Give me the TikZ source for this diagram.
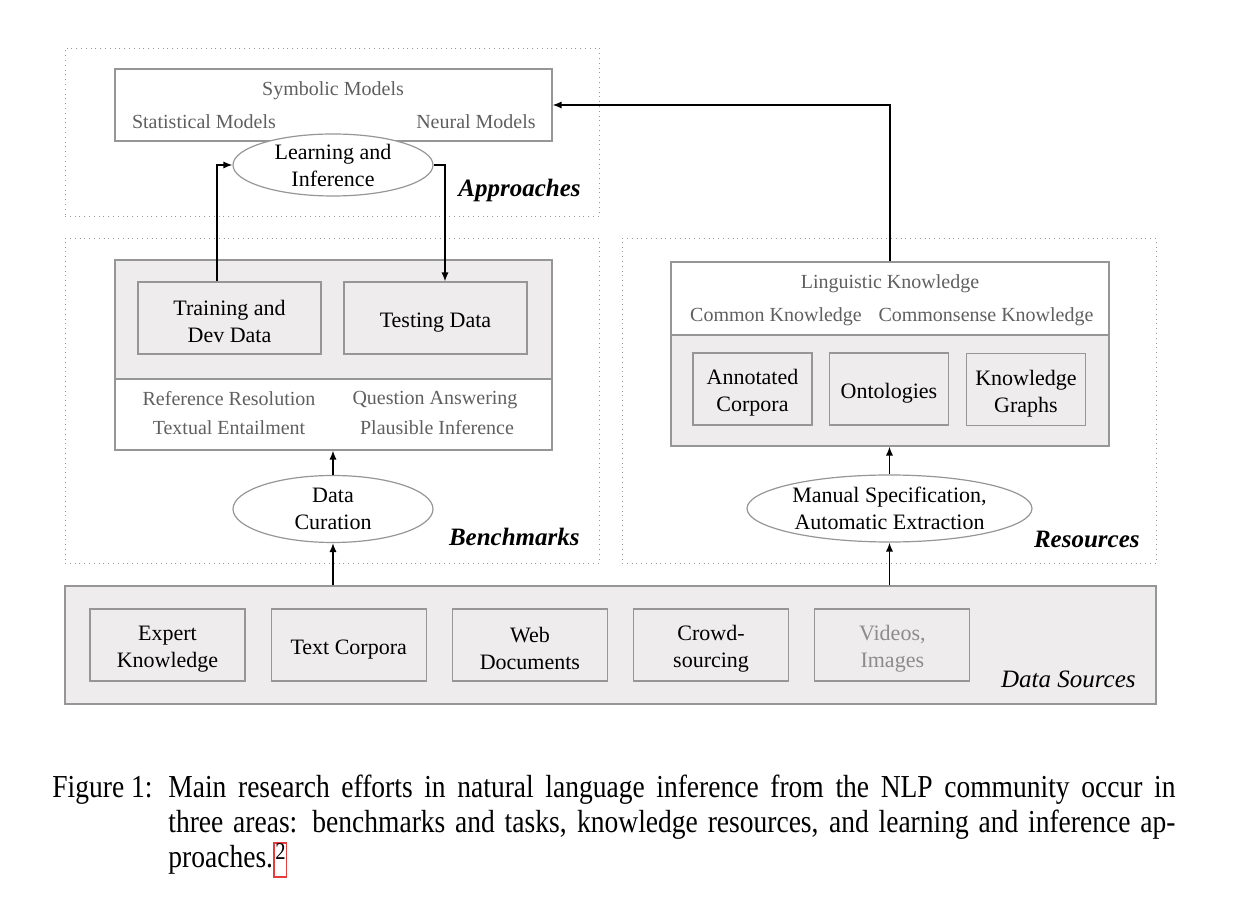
\documentclass[tikz,border=0pt]{standalone}
\usepackage{fontspec}
\setmainfont{Liberation Serif}
\newfontfamily\capfont[FakeStretch=0.86]{Liberation Serif}
\usetikzlibrary{arrows.meta, positioning, shapes.geometric}
\definecolor{areagray}{RGB}{238,236,237}
\definecolor{linegray}{RGB}{150,150,150}
\definecolor{labelgray}{RGB}{95,95,95}
\definecolor{fadedgray}{RGB}{140,140,140}
\definecolor{linkred}{RGB}{230,60,60}

\begin{document}
\begin{tikzpicture}[
  x=0.5pt, y=-0.5pt,
  node distance=12.5pt,
  area/.style={
    draw=linegray,
    dotted,
    line width=0.4pt,
    minimum width=267pt,
    inner sep=0pt
  },
  panel/.style={
    draw=linegray,
    line width=0.6pt,
    minimum width=218.5pt,
    inner sep=0pt
  },
  box/.style={
    draw=linegray,
    line width=0.6pt,
    fill=areagray,
    minimum height=36pt,
    inner sep=1pt,
    align=center,
    font=\fontsize{11}{13.5}\selectfont,
    execute at begin node={\rule{0pt}{12pt}}
  },
  twobox/.style={box, execute at begin node={\rule{0pt}{25pt}}},
  oval/.style={
    ellipse,
    draw=linegray,
    line width=0.6pt,
    fill=white,
    inner sep=0pt,
    align=center,
    font=\fontsize{11}{13.5}\selectfont
  },
  tag/.style={text=labelgray, inner sep=0pt, font=\fontsize{10}{12}\selectfont},
  title/.style={anchor=east, inner sep=0pt, font=\bfseries\itshape\fontsize{12.5}{15}\selectfont},
  caption/.style={anchor=base west, inner sep=0pt, font=\capfont\fontsize{16}{18}\selectfont},
  linkbox/.style={
    anchor=base west,
    draw=linkred,
    line width=0.6pt,
    inner xsep=0.6pt,
    inner ysep=0pt,
    text height=12.5pt,
    text depth=4.5pt,
    font=\capfont\fontsize{12}{14}\selectfont
  },
  arrow/.style={-{Latex[length=4.5pt, width=3.6pt]}, line width=0.7pt}
]
\useasboundingbox (0,0) rectangle (1260,914);

% dotted areas
\node[area, minimum height=84pt] (apparea) at (332,132) {};
\node[area, minimum height=162.5pt] (bencharea) at (332,400.5) {};
\node[area, minimum height=162.5pt] (resarea) at (889,400.5) {};
\node[draw=linegray, line width=0.6pt, fill=areagray, minimum width=545.5pt,
  minimum height=59pt, inner sep=0pt] (srcarea) at (610.5,645) {};

% approaches
\node[panel, minimum height=36pt] (models) at (333.5,105) {};
\node[tag] (symb) at (333,91) {Symbolic Models};
\node[tag] (stat) at (204,122) {Statistical Models};
\node[tag] (neur) at (476,122) {Neural Models};
\node[oval, minimum width=100pt, minimum height=31pt] (lrn) at (333,165)
  {Learning and\\Inference};
\node[title] (apptitle) at (581,190) {Approaches};

% benchmarks
\node[panel, fill=areagray, minimum height=59.5pt] (benchtop) at (333.5,319.5) {};
\node[panel, minimum height=35.5pt] (benchlow) at (333.5,414.5) {};
\node[twobox, minimum width=91.5pt] (train) at (229.5,318) {Training and\\Dev Data};
\node[box, minimum width=91.5pt] (test) at (435.5,318) {Testing Data};
\node[tag] (refres) at (229,399) {Reference Resolution};
\node[tag] (qans) at (435,400) {Question Answering};
\node[tag] (texent) at (229,428) {Textual Entailment};
\node[tag] (plaus) at (437,428) {Plausible Inference};
\node[oval, minimum width=100pt, minimum height=33.5pt] (cur) at (333,509)
  {Data\\Curation};
\node[title] (benchtitle) at (580,537) {Benchmarks};

% resources
\node[panel, minimum width=219pt, minimum height=36.5pt] (knwhite) at (890,298.5) {};
\node[panel, fill=areagray, minimum width=219pt, minimum height=55.5pt] (kngray) at (890,390.5) {};
\node[tag] (ling) at (890,284) {Linguistic Knowledge};
\node[tag] (common) at (776,317) {Common Knowledge};
\node[tag] (csense) at (986,317) {Commonsense Knowledge};
\node[twobox, minimum width=59.5pt] (annot) at (752.5,389) {Annotated\\Corpora};
\node[box, minimum width=59.5pt] (onto) at (889,389) {Ontologies};
\node[twobox, minimum width=59.5pt] (kgraph) at (1026,389.5) {Knowledge\\Graphs};
\node[oval, minimum width=142.5pt, minimum height=33.5pt] (man) at (889.5,508.5)
  {Manual Specification,\\Automatic Extraction};
\node[title] (restitle) at (1140,539) {Resources};

% data sources
\node[twobox, minimum width=77.5pt] (expert) at (167.5,645) {Expert\\Knowledge};
\node[box, minimum width=77.5pt, right=of expert] (corpora) {Text Corpora};
\node[twobox, minimum width=77.5pt, right=of corpora] (web) {Web\\Documents};
\node[twobox, minimum width=77.5pt, right=of web] (crowd) {Crowd-\\sourcing};
\node[twobox, minimum width=77.5pt, right=of crowd, text=fadedgray] (video) {Videos,\\Images};
\node[title, font=\itshape\fontsize{12.5}{15}\selectfont] (srctitle) at (1136,679) {Data Sources};

% connectors
\draw[arrow] (cur.south |- srcarea.north) -- (cur.south);
\draw[arrow] (cur.north) -- (cur.north |- benchlow.south);
\draw[arrow] (man.south |- srcarea.north) -- (man.south);
\draw[arrow] (man.north) -- (man.north |- kngray.south);
\draw[arrow] (knwhite.north) |- (models.east);
\draw[arrow] ([xshift=-6.25pt]train.north) |- (lrn.west);
\draw[arrow] (lrn.east) -| ([xshift=4.75pt]test.north);

% caption
\node[caption] (fig) at (52,798) {Figure 1:};
\node[caption] (cap1) at (168,798)
  {\makebox[503.5pt][s]{Main research efforts in natural language inference from the NLP community occur in}};
\node[caption] (cap2) at (168,833)
  {\makebox[503.5pt][s]{three areas: benchmarks and tasks, knowledge resources, and learning and inference ap-}};
\node[caption] (cap3) at (168,868) {proaches.};
\node[linkbox] (fnmark) at (cap3.base east) {\raisebox{4.5pt}{2}};
\end{tikzpicture}
\end{document}
